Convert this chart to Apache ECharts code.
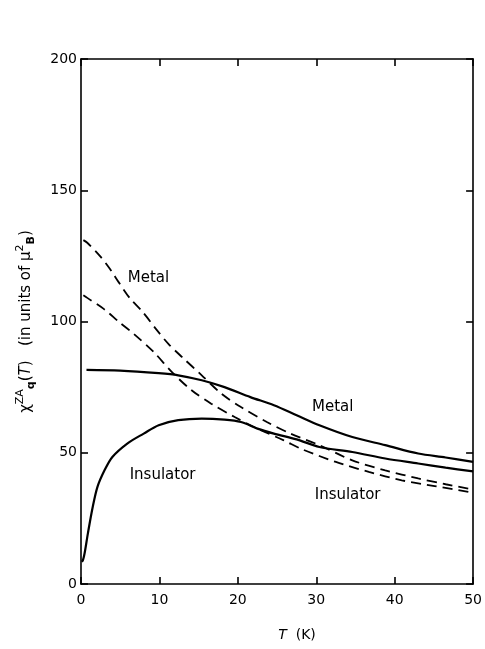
<!DOCTYPE html>
<html>
<head>
<meta charset="utf-8">
<script src="https://cdn.jsdelivr.net/npm/echarts@6/dist/echarts.min.js"></script>
<style>
html,body{margin:0;padding:0;background:#fff;}
#chart{width:485px;height:649px;}
</style>
</head>
<body>
<div id="chart"></div>
<script>
// Temperature T (K) and susceptibility values
const metalSolidT = [0.7, 5, 9.9, 12.4, 15.4, 18.3, 21.6, 24.6, 27.5, 30.4, 34.6, 38.8, 43, 46.5, 50];
const metalSolidV = [81.6, 81.3, 80.3, 79.5, 77.6, 75, 71.2, 68.1, 64.3, 60.5, 56, 52.9, 49.7, 48.2, 46.5];

const insulatorSolidT = [0.1, 0.25, 0.46, 0.88, 1.5, 2.1, 3, 4, 5.9, 8, 9.9, 12.4, 15.4, 18.3, 20.4, 22.5, 24.6, 27.5, 30.4, 34.6, 38.8, 43, 46.5, 50];
const insulatorSolidV = [8.5, 9.1, 11.7, 19.3, 29.4, 37, 43.3, 48.4, 53.5, 57.3, 60.5, 62.4, 63, 62.6, 61.7, 59.2, 57.3, 55.1, 52.2, 50.3, 47.8, 45.9, 44.3, 42.9];

const metalDashT = [0.3, 0.8, 2.4, 3.7, 4.8, 6.2, 7.9, 9.6, 11.2, 12.9, 15.4, 17.9, 20.4, 23.7, 26.7, 30.4, 34.6, 38.8, 43, 46.5, 50];
const metalDashV = [131, 130, 125, 120, 115, 109, 103.5, 97, 91.3, 86.4, 79.5, 72.5, 67.4, 61.7, 57.3, 52.9, 47.1, 43.3, 40.2, 38, 36];

const insulatorDashT = [0.3, 0.8, 2.9, 4.9, 6.8, 9.3, 11.6, 14.1, 16.6, 19.6, 22.5, 25.8, 28.3, 32.5, 36.7, 40.9, 45.1, 50];
const insulatorDashV = [110, 109, 104.8, 99.7, 95.1, 88.3, 80.7, 73.8, 68.7, 63.6, 59.2, 54.8, 51.2, 46.5, 42.7, 39.5, 37.3, 34.8];

// Curve annotations (data coordinates)
const annotationText = ['Metal', 'Metal', 'Insulator', 'Insulator'];
const annotationT = [8.6, 32.1, 10.4, 34];
const annotationV = [116.4, 67.3, 41.4, 34];

const xTicks = [0, 10, 20, 30, 40, 50];
const yTicks = [0, 50, 100, 150, 200];

function pairs(xs, ys) { return xs.map((x, i) => [x, ys[i]]); }

const FONT = 'DejaVu Sans';
const chart = echarts.init(document.getElementById('chart'));

const solidStyle = { color: '#000', width: 2.2, type: 'solid' };
const dashStyle = { color: '#000', width: 1.8, type: [10, 6] };

const baseAxisLine = { show: true, onZero: false, lineStyle: { color: '#000', width: 1.6 } };
const tickIn = { show: true, inside: true, length: 7, lineStyle: { color: '#000', width: 1.6 } };

chart.setOption({
  animation: false,
  backgroundColor: '#fff',
  grid: { left: 81, right: 6, top: 59, bottom: 65, containLabel: false },
  xAxis: [
    {
      type: 'value', min: xTicks[0], max: xTicks[xTicks.length - 1], interval: 10,
      position: 'bottom',
      axisLine: baseAxisLine, axisTick: tickIn, splitLine: { show: false },
      axisLabel: { color: '#000', fontFamily: FONT, fontSize: 14, margin: 9 },
      name: '{i|T}  (K)',
      nameLocation: 'middle', nameGap: 44,
      nameTextStyle: {
        color: '#000', fontFamily: FONT, fontSize: 14, padding: [0, 0, 0, 40],
        rich: { i: { fontStyle: 'italic', fontFamily: FONT, fontSize: 14, color: '#000' } }
      }
    },
    {
      type: 'value', min: 0, max: 50, interval: 10, position: 'top',
      axisLine: baseAxisLine, axisTick: tickIn, axisLabel: { show: false }, splitLine: { show: false }
    }
  ],
  yAxis: [
    {
      type: 'value', min: yTicks[0], max: yTicks[yTicks.length - 1], interval: 50,
      position: 'left',
      axisLine: baseAxisLine, axisTick: tickIn, splitLine: { show: false },
      axisLabel: { color: '#000', fontFamily: FONT, fontSize: 14, margin: 4 },
      name: '{n|χ}{sup|ZA}{sub|q}{n|(}{it|T}{n|)   (in units of μ}{sup|2}{sub|B}{n|)}',
      nameLocation: 'middle', nameGap: 44, nameRotate: 90,
      nameTextStyle: {
        color: '#000', fontFamily: FONT, fontSize: 15,
        rich: {
          n: { fontFamily: FONT, fontSize: 15, color: '#000', lineHeight: 22, verticalAlign: 'middle' },
          it: { fontFamily: FONT, fontSize: 15, fontStyle: 'italic', color: '#000', lineHeight: 22, verticalAlign: 'middle' },
          sup: { fontFamily: FONT, fontSize: 11, color: '#000', lineHeight: 10, verticalAlign: 'top' },
          sub: { fontFamily: FONT, fontSize: 11, fontWeight: 'bold', color: '#000', lineHeight: 10, verticalAlign: 'bottom' }
        }
      }
    },
    {
      type: 'value', min: 0, max: 200, interval: 50, position: 'right',
      axisLine: baseAxisLine, axisTick: tickIn, axisLabel: { show: false }, splitLine: { show: false }
    }
  ],
  series: [
    { name: 'Metal (solid)', type: 'line', data: pairs(metalSolidT, metalSolidV), smooth: 0.3, showSymbol: false, lineStyle: solidStyle },
    { name: 'Insulator (solid)', type: 'line', data: pairs(insulatorSolidT, insulatorSolidV), smooth: 0.3, showSymbol: false, lineStyle: solidStyle },
    { name: 'Metal (dashed)', type: 'line', data: pairs(metalDashT, metalDashV), smooth: 0.3, showSymbol: false, lineStyle: dashStyle },
    { name: 'Insulator (dashed)', type: 'line', data: pairs(insulatorDashT, insulatorDashV), smooth: 0.3, showSymbol: false, lineStyle: dashStyle },
    {
      name: 'labels', type: 'scatter', symbolSize: 0, silent: true,
      itemStyle: { opacity: 1, color: '#000' },
      data: annotationT.map((t, i) => ({ value: [t, annotationV[i]], name: annotationText[i] })),
      label: {
        show: true, position: 'inside', formatter: p => p.name,
        color: '#000', opacity: 1, fontFamily: FONT, fontSize: 15
      }
    }
  ]
});
</script>
</body>
</html>
